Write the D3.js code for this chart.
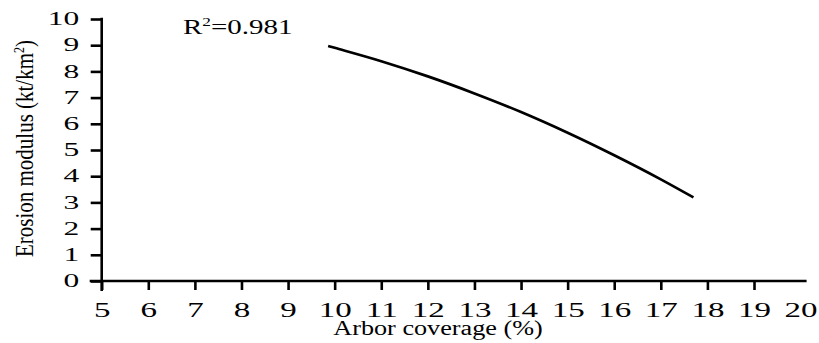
<!DOCTYPE html>
<html>
<head>
<meta charset="utf-8">
<script src="https://cdn.jsdelivr.net/npm/d3@7"></script>
<style>
  html, body { margin: 0; padding: 0; background: #fff; }
  svg { display: block; }
  text { font-family: "Liberation Serif", "Times New Roman", Times, serif; fill: #000; }
</style>
</head>
<body>
<svg id="chart" width="819" height="343"></svg>
<script>
// Fitted erosion modulus against arbor coverage
const coverage = [9.86, 10, 11, 12, 13, 14, 15, 16, 17, 17.7];
const modulus  = [8.97, 8.90, 8.39, 7.81, 7.16, 6.45, 5.66, 4.80, 3.88, 3.19];
const xTicks = [5, 6, 7, 8, 9, 10, 11, 12, 13, 14, 15, 16, 17, 18, 19, 20];
const yTicks = [0, 1, 2, 3, 4, 5, 6, 7, 8, 9, 10];
const rSquared = "0.981";

const svg = d3.select("#chart");
const x = d3.scaleLinear().domain([5, 20]).range([101.7, 800.6]);
const y = d3.scaleLinear().domain([0, 10]).range([281, 19]);
const axisW = 2.6;

// x axis
const gx = svg.append("g").attr("transform", `translate(0,${y(0)})`)
  .call(d3.axisBottom(x).tickValues(xTicks).tickSize(9).tickSizeOuter(0).tickFormat(d3.format("d")));
gx.select(".domain").remove();
gx.selectAll(".tick line").attr("stroke", "#000").attr("stroke-width", axisW)
  .filter(d => d === 20).remove();
gx.selectAll(".tick text")
  .attr("y", 36).attr("dy", 0)
  .attr("font-size", 22)
  .attr("transform", "scale(1.5,1)");
gx.append("line")
  .attr("x1", x(5) - 12).attr("x2", x.range()[1] + 6)
  .attr("stroke", "#000").attr("stroke-width", axisW);

// y axis
const gy = svg.append("g").attr("transform", `translate(${x(5)},0)`)
  .call(d3.axisLeft(y).tickValues(yTicks).tickSize(11).tickSizeOuter(0).tickFormat(d3.format("d")));
gy.select(".domain").remove();
gy.selectAll(".tick line").attr("stroke", "#000").attr("stroke-width", axisW);
gy.selectAll(".tick text")
  .attr("x", -22.5 / 1.75).attr("dy", "0.32em")
  .attr("font-size", 18)
  .attr("transform", "scale(1.75,1)");
gy.append("line")
  .attr("y1", y(0) + 10).attr("y2", y(10) - axisW / 2)
  .attr("stroke", "#000").attr("stroke-width", axisW);

// regression curve
const pts = coverage.map((c, i) => [c, modulus[i]]);
svg.append("path")
  .datum(pts)
  .attr("fill", "none")
  .attr("stroke", "#000")
  .attr("stroke-width", 2.7)
  .attr("d", d3.line().x(d => x(d[0])).y(d => y(d[1])).curve(d3.curveMonotoneX));

// axis titles
svg.append("text")
  .attr("transform", "translate(438,334.5) scale(1.31,1)")
  .attr("text-anchor", "middle")
  .attr("font-size", 20)
  .text("Arbor coverage (%)");

const yt = svg.append("text")
  .attr("transform", "translate(33,148.5) scale(1.15,1) rotate(-90)")
  .attr("text-anchor", "middle")
  .attr("font-size", 21);
yt.append("tspan").text("Erosion modulus (kt/km");
yt.append("tspan").attr("font-size", 12).attr("dy", -8).text("2");
yt.append("tspan").attr("dy", 8).text(")");

// goodness of fit
const rt = svg.append("text")
  .attr("transform", "translate(183,34) scale(1.38,1)")
  .attr("font-size", 21);
rt.append("tspan").text("R");
rt.append("tspan").attr("font-size", 12.5).attr("dy", -8.5).text("2");
rt.append("tspan").attr("dy", 8.5).text("=" + rSquared);
</script>
</body>
</html>
